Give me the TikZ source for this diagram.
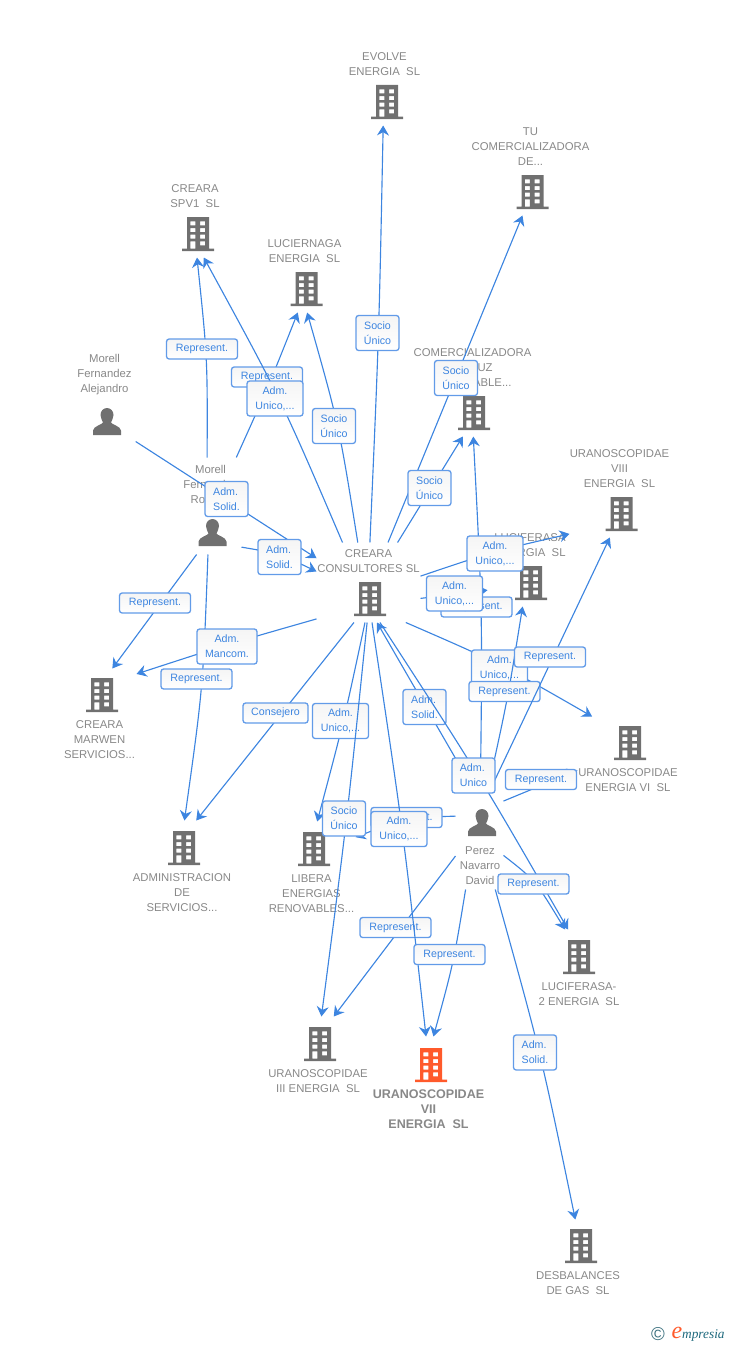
\documentclass[tikz,border=0pt]{standalone}
\usepackage{fontspec}
\setmainfont{Liberation Sans}
\newfontfamily\logofont{Liberation Serif}
\usetikzlibrary{arrows.meta}

\definecolor{lnblue}{RGB}{61,133,224}
\definecolor{bxblue}{RGB}{98,155,232}
\definecolor{icgray}{RGB}{112,112,112}
\definecolor{txgray}{RGB}{136,136,136}
\definecolor{icorange}{RGB}{255,90,43}
\definecolor{lgteal}{RGB}{30,105,125}

\tikzset{every picture/.style={line width=0.75pt}}
\tikzset{
  rel/.style={draw=lnblue,line width=0.85pt,-{Stealth[length=7.5pt,width=9pt,inset=2.5pt]}},
  lab/.style 2 args={draw=bxblue,line width=1pt,rounded corners=2pt,top color=black!4,bottom color=white,
    text=lnblue,font=\fontsize{8}{11.25}\selectfont,align=center,inner sep=0pt,
    minimum width=#1*0.75pt,minimum height=#2*0.75pt},
  labrep/.style={lab={71}{20}},
  labwide/.style={lab={56}{35}},
  labnarrow/.style={lab={43}{35}},
  entbox/.style 2 args={rectangle,inner sep=0pt,minimum width=#1*0.75pt,minimum height=#2*0.75pt},
  enttext/.style={text=txgray,font=\fontsize{8.5}{11.25}\selectfont,align=center,inner sep=0pt},
  tower/.pic={
    \fill [pic actions,yscale=-1,even odd rule] (-11,-17) -- (11,-17) -- (11,14.5) -- (16,14.5) -- (16,17) -- (-16,17) -- (-16,14.5) -- (-11,14.5) -- cycle
      (-7.7,-12.7) rectangle (-2.7,-8.7) (2,-12.7) rectangle (7,-8.7)
      (-7.7,-6) rectangle (-2.7,-2) (2,-6) rectangle (7,-2)
      (-7.7,0.7) rectangle (-2.7,4.7) (2,0.7) rectangle (7,4.7)
      (-7.7,7.3) rectangle (-2.7,14.5) (2,7.3) rectangle (7,11.3);
  },
  person/.pic={
    \fill [pic actions,yscale=-1] (0,-13.5) .. controls (4,-13.5) and (6.5,-10) .. (6.5,-6.5) .. controls (6.5,-3) and (4.5,-1) .. (4,1) .. controls (4.5,3) and (13.5,4.5) .. (14,9) -- (14,13.5) -- (-14,13.5) -- (-14,9) .. controls (-13.5,4.5) and (-4.5,3) .. (-4,1) .. controls (-4.5,-1) and (-6.5,-3) .. (-6.5,-6.5) .. controls (-6.5,-10) and (-4,-13.5) .. (0,-13.5) -- cycle;
  }
}

\begin{document}
\begin{tikzpicture}[x=0.75pt,y=0.75pt,yscale=-1,xscale=1]
\useasboundingbox (0,0) rectangle (728,1345);

% Companies and people
\node [entbox={73}{75}] (evolve) at (384.5,87.5) {};
\node [enttext] (evolvename) at (384.5,64) {EVOLVE\\ENERGIA~ SL};
\pic [icgray] at (387,102) {tower};
\node [entbox={119}{90}] (tucom) at (530.5,170) {};
\node [enttext] (tucomname) at (530.5,147) {TU\\COMERCIALIZADORA\\DE...};
\pic [icgray] at (532.5,192) {tower};
\node [entbox={50}{75}] (spvone) at (195,219.5) {};
\node [enttext] (spvonename) at (195,196) {CREARA\\SPV1~ SL};
\pic [icgray] at (198,234) {tower};
\node [entbox={75}{75}] (lucier) at (304.5,274.5) {};
\node [enttext] (luciername) at (304.5,251) {LUCIERNAGA\\ENERGIA~ SL};
\pic [icgray] at (306.5,289) {tower};
\node [entbox={63}{88}] (aleja) at (104.5,397) {};
\node [enttext] (alejaname) at (104.5,375) {Morell\\Fernandez\\Alejandro};
\pic [icgray] at (107,421.5) {person};
\node [entbox={61}{96}] (rodrigo) at (210.5,506) {};
\node [enttext] (rodrigoname) at (210.5,486) {Morell\\Fernandez\\Rodrigo};
\pic [icgray] at (212.5,532.5) {person};
\node [entbox={119}{90}] (comerc) at (472.5,391) {};
\node [enttext] (comercname) at (472.5,368) {COMERCIALIZADORA\\DE LUZ\\RENOVABLE...};
\pic [icgray] at (474,413) {tower};
\node [entbox={99}{90}] (uraocho) at (619.5,492) {};
\node [enttext] (uraochoname) at (619.5,469) {URANOSCOPIDAE\\VIII\\ENERGIA~ SL};
\pic [icgray] at (621.5,514) {tower};
\node [entbox={84}{75}] (lucifer) at (530,568.5) {};
\node [enttext] (lucifername) at (530,545) {LUCIFERASA\\ENERGIA~ SL};
\pic [icgray] at (531,583) {tower};
\node [entbox={103}{79}] (consult) at (368.5,582.5) {};
\node [enttext] (consultname) at (368.5,561) {CREARA\\CONSULTORES SL};
\pic [icgray] at (370,599) {tower};
\node [entbox={72}{91}] (marwen) at (100,714.5) {};
\node [enttext] (marwenname) at (99.5,740) {CREARA\\MARWEN\\SERVICIOS...};
\pic [icgray] at (102,695) {tower};
\node [entbox={99}{92}] (admin) at (182,867) {};
\node [enttext] (adminname) at (182,893) {ADMINISTRACION\\DE\\SERVICIOS...};
\pic [icgray] at (184,848) {tower};
\node [entbox={87}{92}] (libera) at (311.5,868) {};
\node [enttext] (liberaname) at (311.5,894) {LIBERA\\ENERGIAS\\RENOVABLES...};
\pic [icgray] at (314,849) {tower};
\node [entbox={100}{76}] (uraseis) at (628,755) {};
\node [enttext] (uraseisname) at (628,780) {URANOSCOPIDAE\\ENERGIA VI~ SL};
\pic [icgray] at (630,743) {tower};
\node [entbox={47}{96}] (perez) at (479.5,841) {};
\node [enttext] (perezname) at (480,866) {Perez\\Navarro\\David};
\pic [icgray] at (482,822.5) {person};
\node [entbox={78}{77}] (lucidos) at (578.5,968.5) {};
\node [enttext] (lucidosname) at (579,994) {LUCIFERASA-\\2 ENERGIA~ SL};
\pic [icgray] at (579,957) {tower};
\node [entbox={100}{77}] (uratres) at (318,1055.5) {};
\node [enttext] (uratresname) at (318,1081) {URANOSCOPIDAE\\III ENERGIA~ SL};
\pic [icgray] at (320,1044) {tower};
\node [entbox={113}{93}] (urasiete) at (428.5,1083.5) {};
\node [enttext,font=\fontsize{9.4}{11.25}\selectfont\bfseries] (urasietename) at (428.5,1109) {URANOSCOPIDAE\\VII\\ENERGIA~ SL};
\pic [icorange] at (431,1065) {tower};
\node [entbox={84}{76}] (desb) at (578,1258) {};
\node [enttext] (desbname) at (578,1283) {DESBALANCES\\DE GAS~ SL};
\pic [icgray] at (581,1246) {tower};

% Links and their labels
\draw [rel] (rodrigo.62) .. controls (269,385) .. (lucier.260);
\node [labrep] (replucier) at (267,377) {Represent.};
\draw [rel] (consult.123) .. controls (281.5,400) .. (spvone.283.5);
\node [labwide] (admspv) at (275,398.5) {Adm.\\Unico,...};
\draw [rel] (rodrigo.94) .. controls (207.5,358) .. (spvone.273);
\node [labrep] (repspv) at (202,349) {Represent.};
\draw [rel] (consult.105) .. controls (339,425) .. (lucier.274);
\node [labnarrow] (sociolucier) at (334,426) {Socio\\Único};
\draw [rel] (consult.88) .. controls (379,334) .. (evolve.268);
\node [labnarrow] (socioevolve) at (377.5,333) {Socio\\Único};
\draw [rel] (consult.64) -- (tucom.260.5);
\node [labnarrow] (sociotucom) at (456,378) {Socio\\Único};
\draw [rel] (consult.54) -- (comerc.258);
\node [labnarrow] (sociocomerc) at (429.5,488) {Socio\\Único};
\draw [rel] (aleja.305) -- (consult.155);
\node [labnarrow,align=left] (solidaleja) at (226.5,499) {Adm.\\Solid.};
\draw [rel] (rodrigo.307) .. controls (279,553.5) .. (consult.168);
\node [labnarrow,align=left] (solidrodrigo) at (279.5,557) {Adm.\\Solid.};
\draw [rel] (rodrigo.254) -- (marwen.75);
\node [labrep] (repmarwen) at (155,603) {Represent.};
\draw [rel] (rodrigo.267) .. controls (203,688) .. (admin.87.5);
\node [labrep] (repadmin) at (196.5,679) {Represent.};
\draw [rel] (consult.215) .. controls (227,644.5) .. (marwen.48);
\node [lab={60}{35}] (mancom) at (227,646.5) {Adm.\\Mancom.};
\draw [rel] (consult.250) -- (admin.73);
\node [lab={65}{20}] (consejero) at (275.5,713) {Consejero};
\draw [rel] (consult.265) .. controls (343.7,722) .. (libera.83);
\node [labwide] (admlibera) at (340.5,721) {Adm.\\Unico,...};
\draw [rel] (perez.134) .. controls (407,817.5) .. (libera.35.5);
\node [labrep] (replibera) at (406.5,817.5) {Represent.};
\draw [rel] (consult.268) .. controls (347,820) .. (uratres.85.5);
\node [labnarrow] (sociotres) at (344,818.5) {Socio\\Único};
\draw [rel] (perez.212) -- (uratres.68.7);
\node [labrep] (reptres) at (395.5,927.5) {Represent.};
\draw [rel] (consult.275) .. controls (403,829) .. (urasiete.93);
\node [labwide] (admsiete) at (399,829) {Adm.\\Unico,...};
\draw [rel] (perez.254) .. controls (453.5,963) .. (urasiete.84.5);
\node [labrep] (repsiete) at (449.5,954.5) {Represent.};
\draw [rel] (perez.89) .. controls (482.5,614) .. (comerc.271);
\node [labrep] (repcomerc) at (476.5,607) {Represent.};
\draw [rel] (consult.313.5) .. controls (499,663) .. (uraseis.133.5);
\node [labwide] (admseis) at (499.5,667.5) {Adm.\\Unico,...};
\draw [rel] (perez.81) .. controls (507.7,699) .. (lucifer.259.5);
\node [labrep] (replucifer) at (504.5,691.5) {Represent.};
\draw [rel] (perez.79) -- (uraocho.258);
\node [labrep] (repocho) at (550,657) {Represent.};
\draw [rel] (perez.59.4) -- (uraseis.197.7);
\node [labrep] (repseis) at (541,779.5) {Represent.};
\draw [rel] (perez.95) -- (consult.282);
\node [labnarrow,align=left] (solidperez) at (424.5,707) {Adm.\\Solid.};
\draw [rel] (consult.286) .. controls (479,775) .. (lucidos.105);
\node [labnarrow,align=left] (admunico) at (473.5,775.5) {Adm.\\Unico};
\draw [rel] (consult.343) -- (lucifer.207);
\node [labwide] (admlucifer) at (454.5,593.5) {Adm.\\Unico,...};
\draw [rel] (consult.7) .. controls (495,551) .. (uraocho.220);
\node [labwide] (admocho) at (495,553.5) {Adm.\\Unico,...};
\draw [rel] (perez.288) .. controls (541,1054) .. (desb.94.5);
\node [labnarrow,align=left] (soliddesb) at (535,1052.5) {Adm.\\Solid.};
\draw [rel] (perez.329) .. controls (535,880) .. (lucidos.109);
\node [labrep] (replucidos) at (533.5,884) {Represent.};

% Logo
\node [text=lgteal!70!gray,font=\fontsize{14}{14}\selectfont,inner sep=0pt] (logoc) at (658,1334.5) {©};
\node [text=lgteal,font=\logofont\itshape\fontsize{10}{12}\selectfont,inner sep=0pt,anchor=base west] (logoname) at (671,1338) {{\color{icorange}\fontsize{18}{18}\selectfont e}mpresia};

\end{tikzpicture}
\end{document}
